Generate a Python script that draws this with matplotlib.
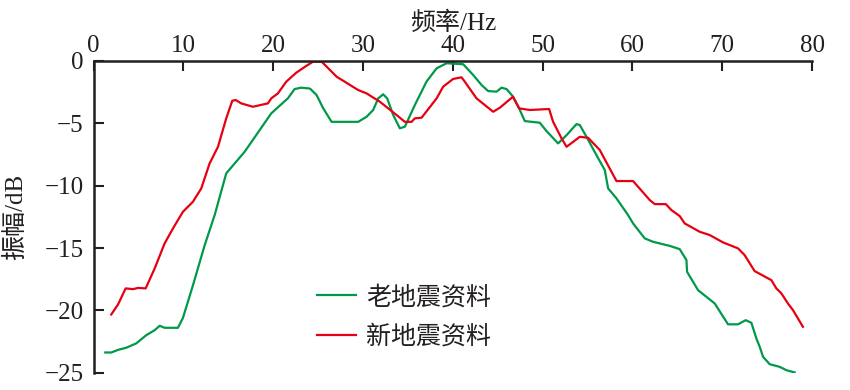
import matplotlib
matplotlib.use("Agg")
import matplotlib.pyplot as plt

plt.rcParams['font.family'] = ['Liberation Serif', 'Noto Sans CJK SC', 'DejaVu Sans']

# 老地震资料 (old seismic data)
old_x = [1.31, 1.98, 2.73, 3.65, 4.76, 5.88, 6.81, 7.37, 7.92, 9.4, 9.96, 11.07, 12.38, 13.49,
         14.78, 16.83, 19.79, 21.65, 22.39, 23.13, 24.1, 24.84, 25.58, 26.51, 29.47, 30.41,
         31.14, 31.7, 32.25, 32.7, 33.37, 34.11, 34.67, 35.78, 37.08, 38.2, 39.31, 41.16,
         42.27, 43.21, 43.94, 44.88, 45.43, 45.99, 46.72, 47.47, 48.02, 49.69, 50.44, 51.73,
         52.67, 53.78, 54.15, 54.89, 56.0, 56.93, 57.3, 58.23, 59.52, 60.08, 61.38, 62.3,
         64.16, 65.27, 66.02, 66.09, 67.31, 69.17, 70.65, 71.76, 72.62, 73.25, 73.81, 74.18,
         74.55, 75.29, 76.4, 77.15, 78.07]
old_y = [-23.38, -23.38, -23.17, -23.0, -22.65, -21.99, -21.59, -21.24, -21.4, -21.4, -20.6,
         -18.0, -14.77, -12.36, -9.01, -7.28, -4.2, -2.99, -2.25, -2.14, -2.21, -2.73, -3.8,
         -4.88, -4.88, -4.47, -3.93, -3.0, -2.67, -3.0, -4.33, -5.4, -5.27, -3.53, -1.65,
         -0.59, -0.18, -0.26, -1.12, -1.93, -2.41, -2.46, -2.14, -2.25, -2.86, -3.93, -4.82,
         -4.95, -5.62, -6.61, -5.95, -5.06, -5.14, -6.08, -7.55, -8.75, -10.22, -11.02,
         -12.36, -13.03, -14.23, -14.5, -14.83, -15.09, -15.97, -16.91, -18.38, -19.45,
         -21.12, -21.12, -20.79, -21.0, -22.26, -22.93, -23.73, -24.32, -24.53, -24.8, -24.98]

# 新地震资料 (new seismic data)
new_x = [1.98, 2.73, 3.58, 4.4, 4.95, 5.81, 6.81, 7.92, 8.85, 9.4, 9.96, 11.07, 12.0, 12.93,
         13.86, 14.78, 15.45, 15.83, 16.45, 17.75, 19.42, 19.79, 20.53, 21.46, 22.57, 23.68,
         24.43, 25.4, 27.07, 29.47, 30.41, 31.89, 33.74, 34.67, 35.41, 35.78, 36.53, 38.2,
         38.93, 40.04, 40.98, 41.34, 42.65, 44.5, 45.24, 46.7, 47.4, 48.58, 50.73, 51.17,
         52.11, 52.67, 54.15, 55.07, 56.37, 58.23, 60.08, 61.94, 62.5, 63.72, 64.35, 65.27,
         65.83, 67.5, 68.61, 70.09, 71.76, 72.5, 73.61, 75.48, 76.03, 76.59, 77.32, 77.88, 78.99]
new_y = [-20.33, -19.53, -18.24, -18.3, -18.2, -18.24, -16.64, -14.63, -13.43, -12.76, -12.09,
         -11.29, -10.22, -8.21, -6.88, -4.6, -3.19, -3.13, -3.4, -3.67, -3.4, -3.0, -2.6,
         -1.66, -0.94, -0.4, -0.06, -0.05, -1.26, -2.33, -2.6, -3.27, -4.33, -4.88, -4.88,
         -4.6, -4.55, -3.0, -2.06, -1.44, -1.31, -1.66, -3.0, -4.07, -3.75, -2.87, -3.8,
         -3.93, -3.85, -4.87, -6.2, -6.88, -6.08, -6.16, -7.14, -9.63, -9.63, -11.16, -11.48,
         -11.48, -11.96, -12.44, -13.03, -13.7, -13.96, -14.55, -15.03, -15.57, -16.85,
         -17.58, -18.24, -18.64, -19.45, -19.98, -21.32]

x_ticks = [0, 10, 20, 30, 40, 50, 60, 70, 80]
y_ticks = [0, -5, -10, -15, -20, -25]
labels = ['老地震资料', '新地震资料']
colors = ['#00994a', '#e60012']
text_color = '#231f20'

fig = plt.figure(figsize=(8.5, 3.9), dpi=100)
ax = fig.add_axes([0.110, 0.0444, 0.8453, 0.7992])

ax.plot(old_x, old_y, color=colors[0], lw=1.6, label=labels[0])
ax.plot(new_x, new_y, color=colors[1], lw=1.6, label=labels[1])

ax.set_xlim(0, 80)
ax.set_ylim(-25, 0)
ax.xaxis.tick_top()
ax.xaxis.set_label_position('top')
ax.set_xticks(x_ticks)
ax.set_yticks(y_ticks)
ax.tick_params(direction='in', length=7, width=1.5, labelsize=18, colors=text_color, pad=7)
ax.tick_params(axis='x', pad=3)

for s in ['right', 'bottom']:
    ax.spines[s].set_visible(False)
for s in ['left', 'top']:
    ax.spines[s].set_linewidth(1.8)
    ax.spines[s].set_color(text_color)

ax.set_xlabel('频率/Hz', fontsize=18, color=text_color)
ax.xaxis.set_label_coords(0.5, 1.10)
ax.set_ylabel('振幅/dB', fontsize=18, color=text_color)
ax.yaxis.set_label_coords(-0.093, 0.5)

leg = ax.legend(loc='upper left', bbox_to_anchor=(0.311, 0.28), frameon=False,
                fontsize=18, handlelength=1.56, handletextpad=0.4, labelspacing=0.62,
                borderpad=0, borderaxespad=0, labelcolor=text_color)

fig.savefig('out.png', dpi=100)
